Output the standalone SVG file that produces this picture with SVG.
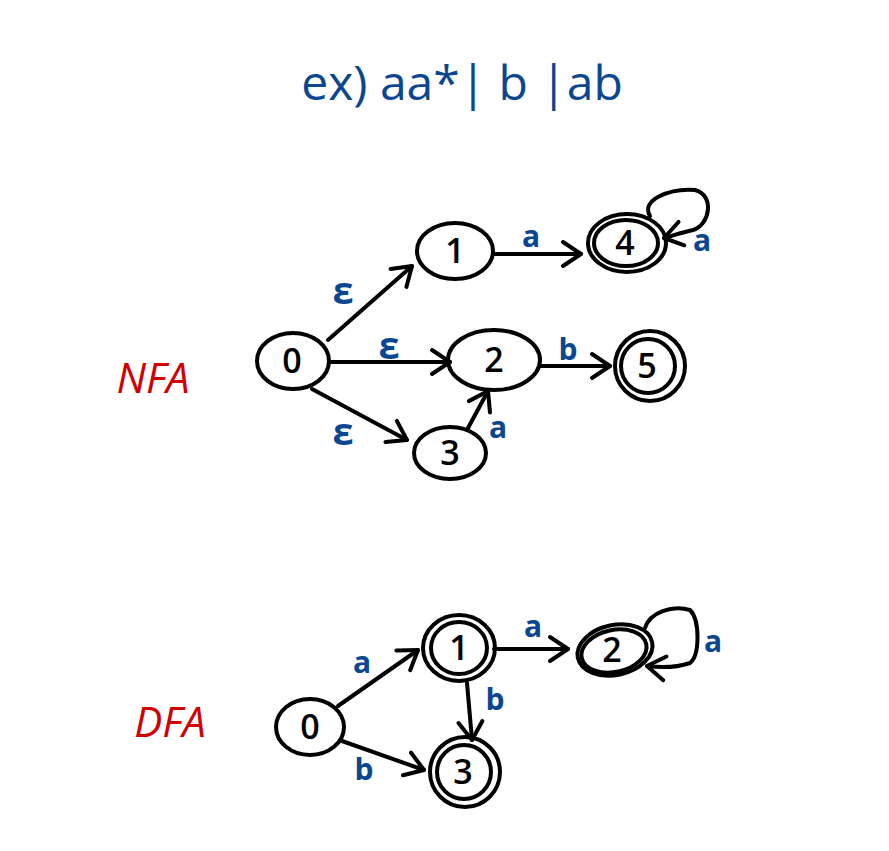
<svg xmlns="http://www.w3.org/2000/svg" width="889" height="851" viewBox="0 0 889 851">
<style>
.n{fill:none;stroke:#000;stroke-width:4}
.e{fill:none;stroke:#000;stroke-width:4;stroke-linecap:round;marker-end:url(#ah)}
.d{font-family:"Open Sans","Liberation Sans",sans-serif;font-size:34px;font-weight:600;fill:#000;text-anchor:middle}
.l{font-family:"Open Sans","Liberation Sans",sans-serif;font-size:30px;font-weight:bold;fill:#0b4690;text-anchor:middle}
.eps{font-size:38px}
.r{font-family:"Open Sans","Liberation Sans",sans-serif;font-size:42px;font-style:italic;fill:#d00000;text-anchor:middle}
</style>
<defs>
<marker id="ah" markerUnits="userSpaceOnUse" markerWidth="26" markerHeight="30" refX="22" refY="15" orient="auto" viewBox="0 0 26 30">
<path d="M4,3 L22,15 L4,27" fill="none" stroke="#000" stroke-width="4" stroke-linecap="round" stroke-linejoin="round"/>
</marker>
</defs>
<rect width="889" height="851" fill="#fff"/>
<text x="462" y="100" font-family="Open Sans, Liberation Sans, sans-serif" font-size="48" fill="#0b4690" text-anchor="middle">ex)  aa*| b |ab</text>
<text id="nfa-label" class="r" x="153" y="393">NFA</text>
<text id="dfa-label" class="r" x="170" y="737">DFA</text>
<g id="connectors">
<path class="e" d="M328,340 L412,266"/>
<path class="e" d="M331,362 L450,362"/>
<path class="e" d="M312,389 L407,440"/>
<path class="e" d="M468,428 L488,391"/>
<path class="e" d="M540,366 L610,366"/>
<path class="e" d="M493,254 L581,254"/>
<path class="e" d="M650,216 C640,200 670,188 695,190 C715,195 710,225 693,230 C680,233 672,236 664,238"/>
<path class="e" d="M338,706 L418,650"/>
<path class="e" d="M342,741 L424,770"/>
<path class="e" d="M494,649 L568,649"/>
<path class="e" d="M467,683 L472,740"/>
<path class="e" d="M645,628 C650,612 672,605 690,610 C700,620 700,655 690,663 C675,668 662,668 647,666"/>
<text class="l eps" x="343" y="304">ε</text>
<text class="l eps" x="389" y="359">ε</text>
<text class="l eps" x="343" y="445">ε</text>
<text class="l" x="498" y="438">a</text>
<text class="l" x="568" y="360">b</text>
<text class="l" x="531" y="247">a</text>
<text class="l" x="702" y="251">a</text>
<text class="l" x="362" y="673">a</text>
<text class="l" x="364" y="780">b</text>
<text class="l" x="533" y="637">a</text>
<text class="l" x="495" y="710">b</text>
<text class="l" x="713" y="652">a</text>
</g>
<g id="nfa0"><ellipse class="n" cx="293" cy="361" rx="36" ry="28"/><text class="d" x="292" y="373">0</text></g>
<g id="nfa1"><ellipse class="n" cx="455" cy="251" rx="38" ry="28"/><text class="d" x="455" y="263">1</text></g>
<g id="nfa4"><ellipse class="n" cx="627" cy="243" rx="39" ry="29"/><ellipse class="n" cx="626" cy="243" rx="32" ry="23"/><text class="d" x="625" y="255">4</text></g>
<g id="nfa2"><ellipse class="n" cx="494" cy="360" rx="46" ry="30"/><text class="d" x="494" y="372">2</text></g>
<g id="nfa5"><ellipse class="n" cx="650" cy="366" rx="35" ry="35"/><ellipse class="n" cx="648" cy="366" rx="27" ry="27"/><text class="d" x="647" y="378">5</text></g>
<g id="nfa3"><ellipse class="n" cx="450" cy="453" rx="36" ry="26"/><text class="d" x="450" y="465">3</text></g>
<g id="dfa0"><ellipse class="n" cx="310" cy="727" rx="34" ry="28"/><text class="d" x="310" y="739">0</text></g>
<g id="dfa1"><ellipse class="n" cx="459" cy="648" rx="36" ry="33"/><ellipse class="n" cx="459" cy="648" rx="28" ry="26"/><text class="d" x="459" y="660">1</text></g>
<g id="dfa2"><ellipse class="n" cx="615" cy="650" rx="38" ry="25" transform="rotate(-12 615 650)"/><ellipse class="n" cx="614" cy="651" rx="33" ry="21" transform="rotate(-12 614 651)"/><text class="d" x="612" y="662">2</text></g>
<g id="dfa3"><ellipse class="n" cx="465" cy="772" rx="35" ry="35"/><ellipse class="n" cx="464" cy="772" rx="27" ry="27"/><text class="d" x="463" y="784">3</text></g>
</svg>
